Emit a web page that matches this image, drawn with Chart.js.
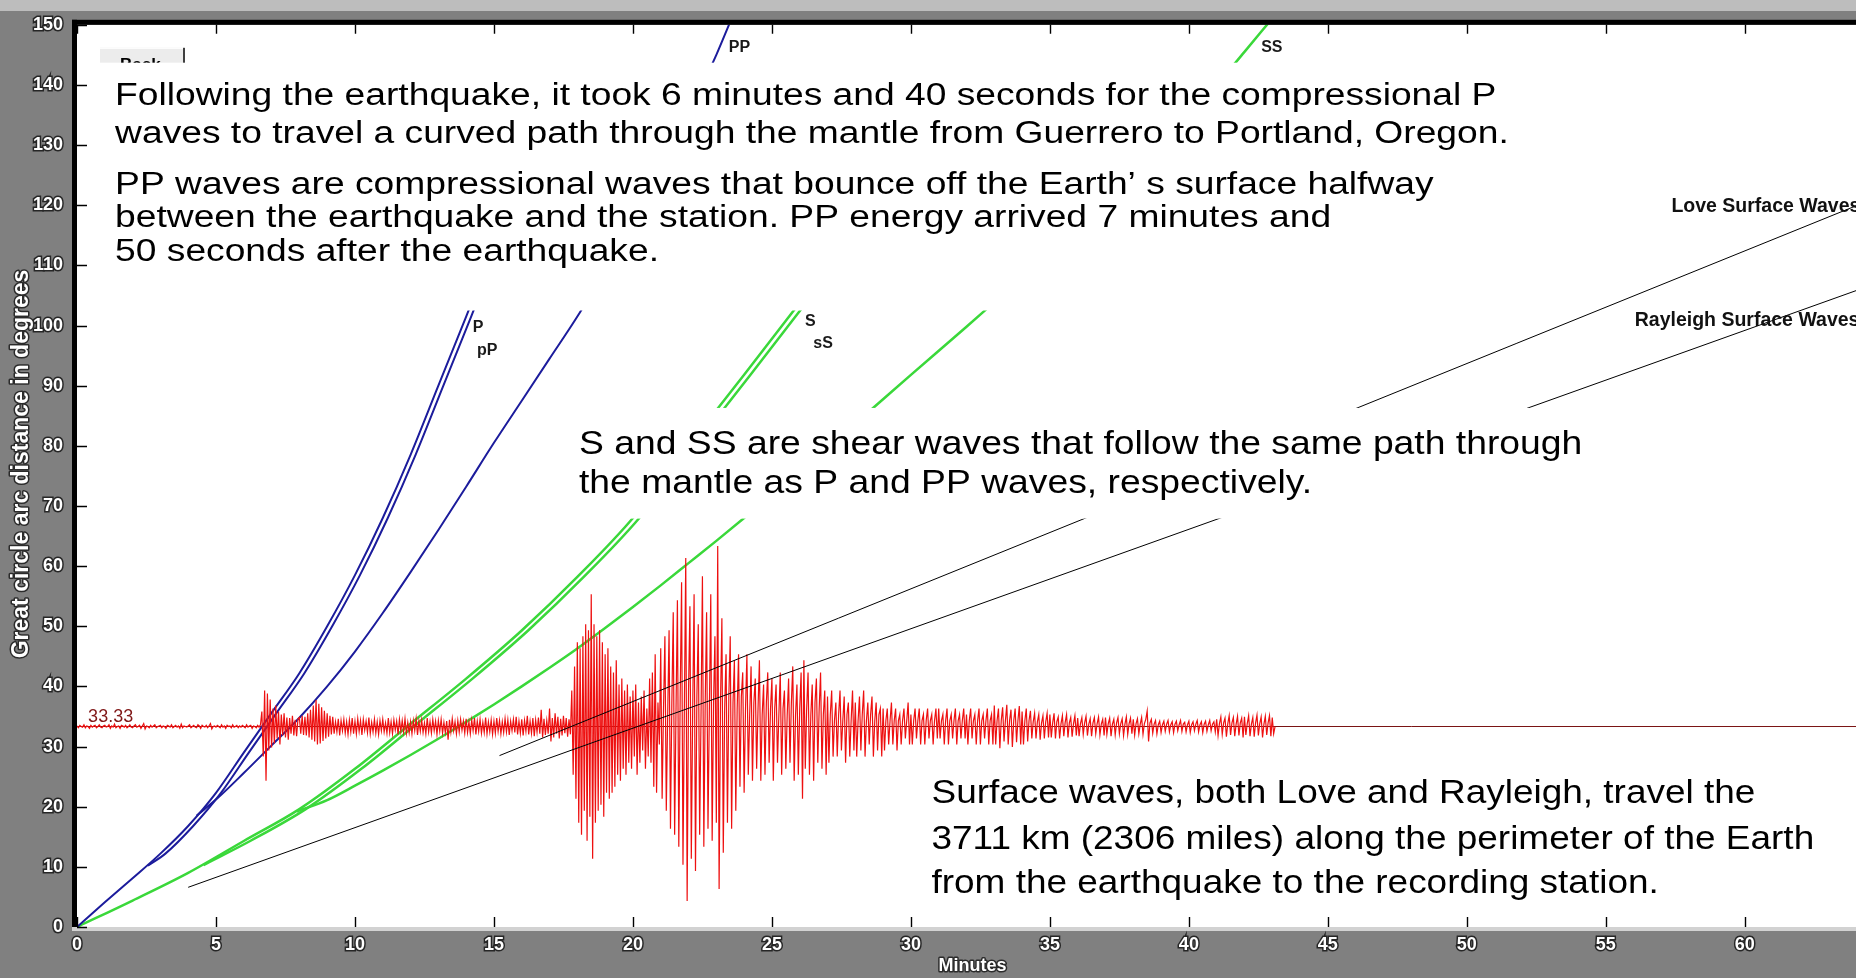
<!DOCTYPE html>
<html>
<head>
<meta charset="utf-8">
<script src="https://cdn.jsdelivr.net/npm/chart.js@4.4.1/dist/chart.umd.min.js"></script>
<style>
  html, body { margin: 0; padding: 0; background: #808080; overflow: hidden; }
  canvas { display: block; }
</style>
</head>
<body>
<canvas id="quakeChart" width="1856" height="978"></canvas>
<script>
// Travel-time curves, [minutes, degrees]
const pCurve  = [[0,0],[1,4.1],[2,8.1],[3,12.2],[4,16.8],[5,22.3],[6,29],[7,35.6],[8,42.2],[9,50],[10,58.5],[11,68],[12,78.5],[13,90],[14,101.5],[14.3,105]];
const pPCurve = [[2.55,10.2],[3.18,12.2],[4.18,16.8],[5.18,22.3],[6.18,29],[7.18,35.6],[8.18,42.2],[9.18,50],[10.18,58.5],[11.18,68],[12.18,78.5],[13.18,90],[14.18,101.5],[14.48,105]];
const ppCurve = [[4.3,18.5],[5.1,21.6],[6,25.6],[7,30.2],[8,34.8],[9,40],[10,45.8],[11,52.2],[12,59],[13,66],[14,73.2],[15,80.5],[16,87.5],[17,94.5],[18,101.5],[19,109.2],[20,117.3],[21,126],[22,135.2],[23,145],[23.5,150.5]];
const sCurve  = [[0,0],[2,4.4],[4,9],[6,14.3],[8,19.6],[10,26.3],[12,33.8],[14,41.3],[16,49.3],[18,58.2],[20,68],[22,80],[24,91.8],[26,103.8]];
const sSCurve = [[4.55,10.3],[6.23,14.3],[8.23,19.6],[10.23,26.3],[12.23,33.8],[14.23,41.3],[16.23,49.3],[18.23,58.2],[20.23,68],[22.23,80],[24.23,91.8],[26.23,103.8]];
const ssCurve = [[7.9,19.2],[9,21.1],[10,23.5],[11,26],[12,28.6],[13,31.3],[14,34.1],[15,37],[16,40],[17,43.1],[18,46.3],[19,49.7],[20,53.2],[21,56.8],[22,60.5],[23,64.2],[24,68],[26,75.8],[28,83.7],[30,91.8],[32,99.8],[34,108],[36,116.5],[38,125.5],[40,135],[41,140],[42,145.5],[42.9,150.5]];
const loveLine     = [[15.2,28.5],[64,119.9]];
const rayleighLine = [[4,6.6],[64,105.8]];

// Seismogram: offset from the station distance, one value every 0.05 min
const stationDist = 33.33;
const traceStart = 0;
const traceStep = 0.05;
const traceAmp = [
  0.1,-0.2,0.2,0,-0.1,0.3,-0.2,0.1,0,-0.3,0.2,-0.1,0.1,0.2,-0.2,0,0.3,-0.1,-0.2,0.1,
  0.2,-0.1,0,0.3,-0.3,0.1,-0.1,0.4,-0.2,0,0.1,-0.3,0.2,0.1,-0.1,0.2,-0.2,0,0.3,-0.1,
  -0.2,0.1,0.3,-0.1,0,0.2,-0.3,0.1,0.5,-0.4,0.1,0,-0.2,0.2,-0.1,0.1,0.3,-0.2,0,0.1,
  0.2,-0.2,0.1,0,-0.3,0.2,0.1,-0.1,0.3,-0.2,0,0.2,-0.1,0.1,-0.3,0.4,-0.2,0.1,0,-0.1,
  0.1,0.3,-0.2,0,0.2,-0.1,-0.2,0.3,0.1,-0.3,0.2,0,-0.1,0.2,-0.2,0.1,0.5,-0.4,0,0.1,
  -0.1,0.2,0,-0.2,0.3,-0.1,0.1,-0.3,0.2,0,0.1,-0.2,0.3,-0.1,0,0.2,-0.2,0.1,-0.1,0.2,
  0,-0.2,0.3,-0.1,0.1,0.2,-0.3,0.1,0,-0.2,0.2,-0.1,0.3,2.5,-5,6,-9,5.5,-4,4.5,
  -3.5,3,-2.8,3.5,-2,2.5,-3,2,-1.5,2.2,-1.8,1.5,-2.2,1.4,-1.2,1.8,-1.5,1.1,-1.6,1.3,
  1.5,-1.2,1.8,-1.4,1.6,-1.5,2.2,-1.8,2.8,-2.2,3.5,-2.5,4.4,-3,3.8,-2.8,3.2,-2.4,2.6,-2,
  2.2,-1.7,1.8,-1.3,1.6,-1.2,0.8,-0.9,1.3,-1.5,1,-0.7,1.2,-1.1,0.8,-1.3,1.1,-0.9,1.4,-1.2,
  0.9,-1.2,1.3,-0.8,1,-1.4,1.2,-0.6,0.9,-1,1.5,-1.2,0.7,-0.9,1.2,-1.1,0.8,-1.3,1,-0.7,
  1.2,-0.9,0.6,-1.1,1.4,-1,0.8,-1.2,1.1,-0.6,0.9,-1.3,1.2,-0.8,1,-0.9,1.3,-1.1,0.7,-1,
  0.8,-1.2,1,-0.7,1.3,-1.4,0.9,-0.8,1.1,-1,0.6,-1.2,1.4,-0.9,0.8,-1.1,1.2,-0.7,0.9,-1.3,
  1,-0.8,1.2,-1.1,0.7,-1,0.9,-2.2,1.1,-0.9,1.3,-0.7,0.8,-1.2,1,-0.9,1.2,-0.6,0.9,-1.1,
  1.3,-1,0.8,-1.2,1.1,-0.7,1.4,-1.3,0.9,-0.8,1.2,-1.1,0.7,-1,1.5,-1.2,0.8,-0.9,1.1,-1.3,
  0.9,-1.1,1.4,-0.8,1,-1.2,0.8,-1,1.3,-0.9,1.1,-1.4,0.9,-0.7,1.2,-1,1.6,-1.3,0.9,-1.1,
  1.2,-1.5,1,-0.8,1.8,-1.3,0.9,-1.1,1.4,-1.6,1.1,-0.9,1.5,-1.2,2.8,-1.8,1.3,-1.4,1,-1.2,
  3,-2.5,1.4,-1.8,2.2,-1.2,1.6,-2,1.3,-1.5,1.8,-1.1,1.4,-1.7,1.2,-1.3,6,-8,10,-12,
  14,-16,13,-18,15,-14,17,-19,16,-15,22,-22,17,-16,15,-14,16,-13,14,-15,
  12,-11,13,-12,10,-11,9,-10,11,-8,7,-9,8,-7,6,-8,7,-6,5,-7,
  6,-5,7,-8,4,-6,5,-4,6,-7,3,-5,8,-6,9,-10,12,-11,4,-3,
  13,-12,3,15,-14,2,16,-17,4,19,-18,3,21,-20,5,24,-23,3,28,-29,
  6,20,-22,3,22,-24,5,17,-18,2,25,-20,4,19,-17,3,22,-19,4,15,
  -16,30,-27,4,18,-21,3,12,-16,5,15,-17,4,11,-14,3,12,-10,5,9,
  -11,3,12,-8,2,10,-9,4,8,-7,3,11,-9,2,7,-8,4,9,-6,3,
  8,-9,3,7,-6,2,9,-8,3,6,-7,2,8,-6,4,10,-9,2,7,-8,
  3,9,-12,11,-7,3,9,-8,2,7,-9,4,8,-6,3,9,-7,2,6,-8,
  5,-6,2,6,-5,1,4,-5,2,6,-4,1,5,-6,2,4,-5,1,6,-4,
  4,-5,1,5,-4,2,6,-5,1,4,-3,2,5,-5,1,4,-4,2,3,-5,
  3,-4,1,3,-3,1,4,-3,1,3,-4,1,2,-3,1,3,-2,1,4,-3,
  2,-3,1,3,-2,1,3,-3,1,2,-3,1,3,-2,1,2,-3,1,3,-2,
  3,-2,1,2,-3,1,3,-3,1,2,-2,1,3,-3,1,2,-2,1,3,-2,
  2,-3,1,3,-2,1,2,-3,1,3,-3,1,2,-2,1,3,-3,1,2,-3,
  3.5,-3,1,3,-3.6,1,3.2,-2.5,1,3.6,-3,1,2.8,-3.4,1,3,-2.6,1,3.4,-3,
  2.5,-3,1,3,-2.5,1,2.6,-2,0.8,2.2,-2,0.8,2,-2.2,0.6,1.8,-2,0.8,2.2,-1.8,
  2,-1.8,0.6,2.2,-2,0.8,1.6,-2,0.5,1.8,-1.6,0.7,2,-1.8,0.6,1.5,-1.7,0.5,1.8,-1.5,
  1.4,-1.6,0.5,1.5,-1.3,0.6,1.7,-1.5,0.4,1.3,-1.6,0.6,1.5,-1.2,0.5,1.6,-1.4,0.4,1.2,-1.5,
  1.5,-1.3,0.5,1.4,-1.6,0.4,1.2,-1.4,0.6,1.5,-1.2,0.5,1.3,-1.5,0.4,1.6,-1.3,0.5,1.4,-1.2,
  1.2,-1.4,0.5,1.3,-1.2,0.4,1.5,-1.3,0.5,1.2,2.6,-2.5,0.6,1.2,-1.1,0.4,1,-1.2,0.3,0.9,
  -1,0.3,0.9,-0.8,0.4,1,-0.9,0.3,0.8,-1,0.4,0.9,-0.7,0.3,1,-0.8,0.4,0.7,-0.9,0.3,
  0.9,-1,0.3,0.8,-0.7,0.4,1,-0.9,0.3,0.8,-1,0.4,0.9,-0.8,0.3,1,-0.7,0.4,0.8,-0.9,
  1.2,-1.5,0.5,1.6,-1.3,0.6,1.4,-1.7,0.5,1.8,-1.4,0.6,1.5,-1.6,0.4,1.7,-1.5,0.6,1.4,-1.8,
  1.6,-1.4,0.5,1.8,-1.6,0.4,1.5,-1.7,0.6,1.9,-1.5,0.5,1.6,-1.8,0.4,1.7,-1.4,0.6,1.8,-1.6,
  1.5,-1.2,0
];

// axes
const xMin = 0, xMax = 64, xStep = 5;
const yMin = 0, yMax = 150, yStep = 10;

// phase labels [text, minutes, degrees]
const phaseLabels = [['P',14.24,99],['pP',14.39,95.1],['S',26.19,100],['sS',26.49,96.3],['PP',23.45,145.4],['SS',42.6,145.4]];
const waveLabels = [['Love Surface Waves',57.36,118.9],['Rayleigh Surface Waves',56.04,99.95]];

// explanatory notes laid over the plot
const noteBoxes = [[0.65,143.7,52.3,102.5],[17.4,86.3,54.4,67.9],[30.1,27.5,63.4,2.6]];
const noteLines = [
  ['Following the earthquake, it took 6 minutes and 40 seconds for the compressional P', 1.37, 136.7, 0],
  ['waves to travel a curved path through the mantle from Guerrero to Portland, Oregon.', 1.37, 130.4, 0],
  ['PP waves are compressional waves that bounce off the Earth\u2019 s surface halfway', 1.37, 121.9, 0],
  ['between the earthquake and the station. PP energy arrived 7 minutes and', 1.37, 116.4, 0],
  ['50 seconds after the earthquake.', 1.37, 110.7, 0],
  ['S and SS are shear waves that follow the same path through', 18.06, 78.7, 1],
  ['the mantle as P and PP waves, respectively.', 18.06, 72.1, 1],
  ['Surface waves, both Love and Rayleigh, travel the', 30.74, 20.6, 2],
  ['3711 km (2306 miles) along the perimeter of the Earth', 30.74, 13.0, 2],
  ['from the earthquake to the recording station.', 30.74, 5.6, 2]
];
const noteFonts = [[31, 1.2], [33, 1.13], [33, 1.12]];

const toXY = arr => arr.map(([x, y]) => ({ x, y }));
const traceData = traceAmp.map((a, i) => ({ x: traceStart + i * traceStep, y: stationDist + a }));

const BLUE = '#1c1c9c', GREEN = '#3ad83a';
function curve(data, color, width) {
  return { data: toXY(data), borderColor: color, borderWidth: width, pointRadius: 0,
           cubicInterpolationMode: 'monotone', fill: false };
}

const sans = "'Liberation Sans', Arial, sans-serif";

function text(ctx, str, x, y, font, color, sx) {
  ctx.save();
  ctx.translate(x, y);
  ctx.scale(sx || 1, 1);
  ctx.font = font;
  ctx.textBaseline = 'alphabetic';
  ctx.fillStyle = color;
  ctx.fillText(str, 0, 0);
  ctx.restore();
}

function outlined(ctx, str, x, y, font, angle) {
  ctx.save();
  ctx.font = font;
  ctx.textAlign = 'center';
  ctx.textBaseline = 'middle';
  ctx.translate(x, y);
  if (angle) ctx.rotate(angle);
  ctx.lineWidth = 3; ctx.strokeStyle = '#2b2b2b'; ctx.lineJoin = 'round';
  ctx.strokeText(str, 0, 0);
  ctx.fillStyle = '#fff';
  ctx.fillText(str, 0, 0);
  ctx.restore();
}

const framePlugin = {
  id: 'frame',
  beforeDraw(chart) {
    const { ctx, chartArea: a, width, height } = chart;
    ctx.save();
    ctx.fillStyle = '#808080';
    ctx.fillRect(0, 0, width, height);
    ctx.fillStyle = '#bdbdbd';
    ctx.fillRect(0, 0, width, 11);
    ctx.fillStyle = '#ffffff';
    ctx.fillRect(a.left, a.top, a.right - a.left, a.bottom - a.top);
    ctx.fillStyle = '#d2d2d2';
    ctx.fillRect(a.left - 5, a.bottom, a.right - a.left + 5, 4);
    ctx.restore();
  },
  afterDatasetsDraw(chart) {
    const { ctx, chartArea: a, scales: { x, y } } = chart;
    ctx.save();
    // frame border
    ctx.fillStyle = '#000';
    ctx.fillRect(a.left - 5, a.top - 5, a.right - a.left + 5, 5);
    ctx.fillRect(a.left - 5, a.top - 5, 5, a.bottom - a.top + 5);
    // inward tick marks
    ctx.strokeStyle = '#000';
    ctx.lineWidth = 1.4;
    ctx.beginPath();
    x.ticks.forEach(t => {
      const px = Math.round(x.getPixelForValue(t.value)) + 0.5;
      ctx.moveTo(px, a.bottom); ctx.lineTo(px, a.bottom - 10);
      ctx.moveTo(px, a.top); ctx.lineTo(px, a.top + 9);
    });
    y.ticks.forEach(t => {
      const py = Math.round(y.getPixelForValue(t.value)) + 0.5;
      ctx.moveTo(a.left, py); ctx.lineTo(a.left + 10, py);
    });
    ctx.stroke();

    // Back button, mostly hidden behind the first note
    ctx.fillStyle = '#ececec';
    ctx.fillRect(a.left + 23, a.top + 23, 84, 24);
    ctx.fillStyle = '#ffffff';
    ctx.fillRect(a.left + 23, a.top + 23, 84, 1);
    ctx.fillStyle = '#404040';
    ctx.fillRect(a.left + 106, a.top + 23, 2, 24);
    text(ctx, 'Back', a.left + 43, a.top + 45, 'bold 17px ' + sans, '#000');

    // white note boxes
    ctx.fillStyle = '#ffffff';
    noteBoxes.forEach(([t0, d0, t1, d1]) => {
      const l = x.getPixelForValue(t0), r = x.getPixelForValue(t1);
      const tp = y.getPixelForValue(d0), bt = y.getPixelForValue(d1);
      ctx.fillRect(l, tp, r - l, bt - tp);
    });
    noteLines.forEach(([str, t, d, f]) => {
      const [size, sx] = noteFonts[f];
      text(ctx, str, x.getPixelForValue(t), y.getPixelForValue(d), size + 'px ' + sans, '#000', sx);
    });

    phaseLabels.forEach(([str, t, d]) => {
      text(ctx, str, x.getPixelForValue(t), y.getPixelForValue(d), 'bold 16px ' + sans, '#1a1a1a');
    });
    waveLabels.forEach(([str, t, d]) => {
      text(ctx, str, x.getPixelForValue(t), y.getPixelForValue(d), 'bold 19.5px ' + sans, '#111');
    });
    text(ctx, stationDist.toFixed(2), x.getPixelForValue(0.4), y.getPixelForValue(34.1), '18px ' + sans, '#801818');
    ctx.restore();
  },
  afterDraw(chart) {
    const { ctx, chartArea: a } = chart;
    outlined(ctx, 'Great circle arc distance in degrees', 22, 464, 'bold 23px ' + sans, -Math.PI / 2);
    outlined(ctx, 'Minutes', (a.left + a.right) / 2 + 6, 966, 'bold 18px ' + sans);
  }
};

const tickFont = { family: sans, size: 18, weight: 'bold' };

new Chart(document.getElementById('quakeChart'), {
  type: 'line',
  data: {
    datasets: [
      { data: toXY(loveLine), borderColor: '#000', borderWidth: 1, pointRadius: 0 },
      { data: toXY(rayleighLine), borderColor: '#000', borderWidth: 1, pointRadius: 0 },
      { data: traceData, borderColor: '#ee1010', borderWidth: 1.2, pointRadius: 0, tension: 0 },
      curve(pCurve, BLUE, 2),
      curve(pPCurve, BLUE, 2),
      curve(ppCurve, BLUE, 2),
      curve(sCurve, GREEN, 2.5),
      curve(sSCurve, GREEN, 2.5),
      curve(ssCurve, GREEN, 2.5),
      { data: [{ x: xMin, y: stationDist }, { x: xMax, y: stationDist }], borderColor: '#7a1414', borderWidth: 1, pointRadius: 0 }
    ]
  },
  options: {
    responsive: false,
    animation: false,
    events: [],
    layout: { padding: { top: 16, left: 0, right: 0, bottom: 0 } },
    plugins: { legend: { display: false }, tooltip: { enabled: false } },
    scales: {
      x: {
        type: 'linear', min: xMin, max: xMax,
        grid: { display: false, drawTicks: false, tickLength: 0 }, border: { display: false },
        ticks: { stepSize: xStep, color: '#fff', font: tickFont, padding: 7, maxRotation: 0,
                 autoSkip: false, textStrokeColor: '#262626', textStrokeWidth: 3 },
        afterBuildTicks: s => { s.ticks = s.ticks.filter(t => t.value % xStep === 0); },
        afterFit: s => { s.height = 51; }
      },
      y: {
        type: 'linear', min: yMin, max: yMax,
        grid: { display: false, drawTicks: false, tickLength: 0 }, border: { display: false },
        ticks: { stepSize: yStep, color: '#fff', font: tickFont, padding: 14,
                 autoSkip: false, textStrokeColor: '#262626', textStrokeWidth: 3 },
        afterFit: s => { s.width = 77; }
      }
    }
  },
  plugins: [framePlugin]
});
</script>
</body>
</html>
